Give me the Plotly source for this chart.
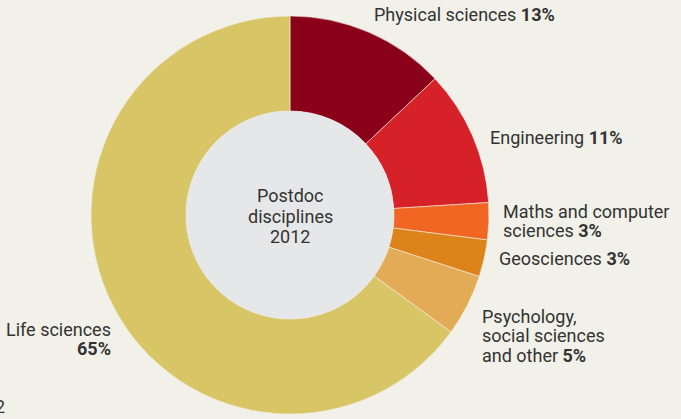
import plotly.graph_objects as go

labels = ["Physical sciences", "Engineering", "Maths and computer sciences",
          "Geosciences", "Psychology, social sciences and other", "Life sciences"]
values = [13, 11, 3, 3, 5, 65]
colors = ["#8a0019", "#d62129", "#f26624", "#dc8419", "#e4ab57", "#d8c666"]
# label lines per slice
label_lines = [["Physical sciences <b>13%</b>"],
               ["Engineering <b>11%</b>"],
               ["Maths and computer", "sciences <b>3%</b>"],
               ["Geosciences <b>3%</b>"],
               ["Psychology,", "social sciences", "and other <b>5%</b>"],
               ["Life sciences", "<b>65%</b>"]]
center_lines = ["Postdoc", "disciplines", "2012"]
# label anchor positions in pixels (x, first-line y from top, xanchor)
label_pos = [(372, 15, "left"), (488, 138, "left"), (501, 211, "left"),
             (497, 258.5, "left"), (480, 316, "left"), (113, 329, "right")]
line_gap = 19.5

W, H = 681, 419
cx, cy, R, r_in = 290, 215, 199, 104
bg = "#f2f1e9"

fig = go.Figure()
fig.add_trace(go.Pie(
    labels=labels, values=values, sort=False, direction="clockwise", rotation=0,
    hole=r_in / R, marker=dict(colors=colors, line=dict(color="#f2efe6", width=0.6)),
    textinfo="none", hoverinfo="label+percent", showlegend=False,
    domain=dict(x=[(cx - R) / W, (cx + R) / W], y=[(H - cy - R) / H, (H - cy + R) / H]),
))

fig.add_shape(type="circle", xref="paper", yref="paper",
              x0=(cx - r_in) / W, x1=(cx + r_in) / W,
              y0=(H - cy - r_in) / H, y1=(H - cy + r_in) / H,
              fillcolor="#e6e7e8", line=dict(width=0), layer="above")

font = dict(family="Roboto, Liberation Sans, Arial, sans-serif", size=18, color="#333333")


def px_annot(text, x, y, xa):
    fig.add_annotation(x=x / W, y=(H - y) / H, xref="paper", yref="paper",
                       text=text, showarrow=False, xanchor=xa, yanchor="middle",
                       align=xa, font=font)


for i, t in enumerate(center_lines):
    px_annot(t, cx, 195.5 + i * 20.5, "center")

for lines, (x, y, xa) in zip(label_lines, label_pos):
    for i, t in enumerate(lines):
        px_annot(t, x, y + i * line_gap, xa)

px_annot("2", 7, 406, "right")

fig.update_layout(width=W, height=H, margin=dict(l=0, r=0, t=0, b=0),
                  paper_bgcolor=bg, plot_bgcolor=bg)
fig.write_html("out.html")
